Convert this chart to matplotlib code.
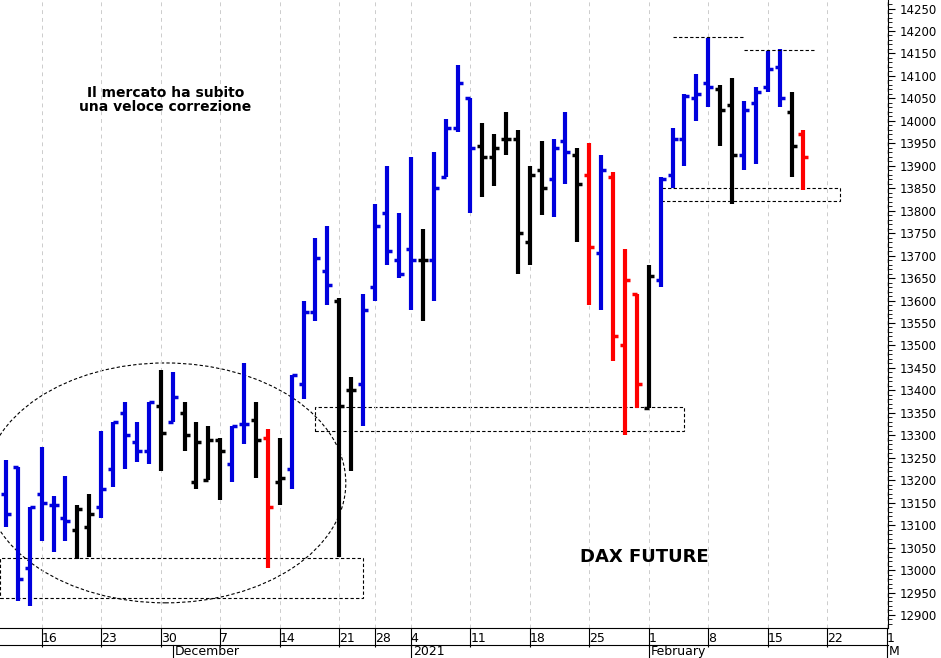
import numpy as np
import matplotlib.pyplot as plt
from matplotlib.patches import Ellipse, Rectangle

# daily OHLC bars, DAX future, 11 Nov 2020 .. 18 Feb 2021
highs = [13245, 13230, 13140, 13275, 13165, 13210, 13145, 13170, 13310, 13330,
         13375, 13330, 13375, 13445, 13440, 13375, 13330, 13320, 13295, 13320,
         13460, 13375, 13315, 13295, 13435, 13600, 13740, 13765, 13605, 13430,
         13615, 13815, 13900, 13795, 13920, 13760, 13930, 14005, 14125, 14050,
         13995, 13970, 14020, 13980, 13900, 13955, 13960, 14020, 13940, 13950,
         13925, 13885, 13715, 13615, 13680, 13875, 13985, 14060, 14105, 14185,
         14080, 14095, 14045, 14075, 14155, 14160, 14065, 13980]
lows = [13095, 12930, 12920, 13065, 13040, 13065, 13025, 13030, 13115, 13185,
        13225, 13240, 13235, 13220, 13330, 13265, 13180, 13200, 13155, 13195,
        13280, 13205, 13005, 13145, 13180, 13380, 13555, 13590, 13030, 13220,
        13320, 13600, 13680, 13650, 13580, 13555, 13600, 13875, 13975, 13795,
        13830, 13855, 13925, 13660, 13680, 13790, 13785, 13860, 13730, 13590,
        13580, 13465, 13300, 13360, 13360, 13630, 13850, 13900, 14000, 14030,
        13945, 13815, 13890, 13905, 14065, 14030, 13875, 13845]
opens = [13170, 13230, 13005, 13170, 13145, 13115, 13090, 13095, 13140, 13225,
         13350, 13285, 13265, 13365, 13330, 13350, 13195, 13200, 13290, 13235,
         13325, 13335, 13295, 13195, 13225, 13415, 13575, 13665, 13600, 13400,
         13415, 13630, 13795, 13690, 13715, 13690, 13690, 13875, 13985, 14050,
         13945, 13920, 13960, 13960, 13730, 13890, 13870, 13955, 13925, 13880,
         13705, 13875, 13500, 13615, 13360, 13645, 13880, 13960, 14050, 14085,
         14070, 14035, 13925, 14040, 14075, 14120, 14020, 13970]
closes = [13125, 12980, 13140, 13150, 13145, 13110, 13135, 13125, 13180, 13330,
          13300, 13265, 13375, 13305, 13385, 13300, 13285, 13290, 13265, 13320,
          13325, 13290, 13140, 13205, 13435, 13575, 13695, 13635, 13365, 13400,
          13580, 13765, 13710, 13660, 13690, 13690, 13850, 13985, 14085, 13940,
          13920, 13940, 13960, 13750, 13880, 13850, 13940, 13930, 13860, 13720,
          13890, 13520, 13645, 13415, 13655, 13870, 13960, 14055, 14060, 14075,
          14025, 13925, 14025, 14065, 14115, 14050, 13945, 13920]
colors = list("bbbbbbkkbbbbbkbkkkkbbkrkbbbbkkbbbbbkbbbbkkkkkkbbkr"
              "brrrkbbbbbkkbbbbkr")
color_map = {"b": "#0000dd", "k": "black", "r": "red"}

# weekly ticks (trading-day index) and their labels
tick_pos = [3, 8, 13, 18, 23, 28, 31, 34, 39, 44, 49, 54, 59, 64, 69, 74]
tick_lab = ["16", "23", "30", "7", "14", "21", "28", "4", "11", "18", "25",
            "1", "8", "15", "22", "1"]
months = [(14, "December"), (34, "2021"), (54, "February"), (74, "M")]

fig = plt.figure(figsize=(9.41, 6.58), dpi=100)
ax = fig.add_axes([0, 30 / 658, 888 / 941, 628 / 658])

x = np.arange(len(highs))
w = 0.42
for i in x:
    c = color_map[colors[i]]
    ax.plot([i, i], [lows[i], highs[i]], color=c, lw=3, solid_capstyle="butt")
    ax.plot([i - w, i], [opens[i], opens[i]], color=c, lw=2.5, solid_capstyle="butt")
    ax.plot([i, i + w], [closes[i], closes[i]], color=c, lw=2.5, solid_capstyle="butt")

# annotations
dash = dict(fill=False, ls=(0, (3, 2)), lw=0.8, ec="black")
ax.add_patch(Ellipse((13.4, 13194), 30.3, 534, **dash))
ax.add_patch(Rectangle((-0.5, 12937), 30.5, 90, **dash))
ax.add_patch(Rectangle((26, 13310), 31, 53, **dash))
ax.add_patch(Rectangle((55, 13822), 15.1, 29, **dash))
ax.plot([56, 61.9], [14187, 14187], color="black", ls=(0, (3, 2)), lw=0.8)
ax.plot([62, 68], [14158, 14158], color="black", ls=(0, (3, 2)), lw=0.8)

ax.text(13.4, 14047, "Il mercato ha subito\nuna veloce correzione", ha="center",
        va="center", fontsize=10, fontweight="bold", linespacing=1.0)
ax.text(53.6, 13030, "DAX FUTURE", ha="center", va="center", fontsize=13,
        fontweight="bold")

# axes styling
ax.yaxis.tick_right()
ax.set_yticks(np.arange(12900, 14251, 50))
ax.set_yticks(np.arange(12880, 14261, 10), minor=True)
ax.tick_params(axis="y", labelsize=8.5, length=5, direction="out")
ax.tick_params(axis="y", which="minor", length=3)
ax.set_xticks(tick_pos)
ax.set_xticklabels(tick_lab, ha="left")
ax.tick_params(axis="x", labelsize=9, length=14, pad=-11, direction="out")
ax.grid(axis="x", color="#cccccc", ls=(0, (4, 4)), lw=0.7)
ax.spines["top"].set_visible(False)
ax.spines["left"].set_visible(False)
ax.set_xlim(-0.5, 74.1)
ax.set_ylim(12871, 14269)

xt = ax.get_xaxis_transform()
ax.plot([-0.5, 74.1], [-0.027, -0.027], transform=xt, color="black", lw=0.8,
        clip_on=False)
for pos, lab in months:
    ax.text(pos + 0.2, -0.027, lab, transform=xt, ha="left", va="top", fontsize=9)
    ax.plot([pos, pos], [-0.05, -0.027], transform=xt, color="black", lw=0.8,
            clip_on=False)

fig.savefig("out.png")
